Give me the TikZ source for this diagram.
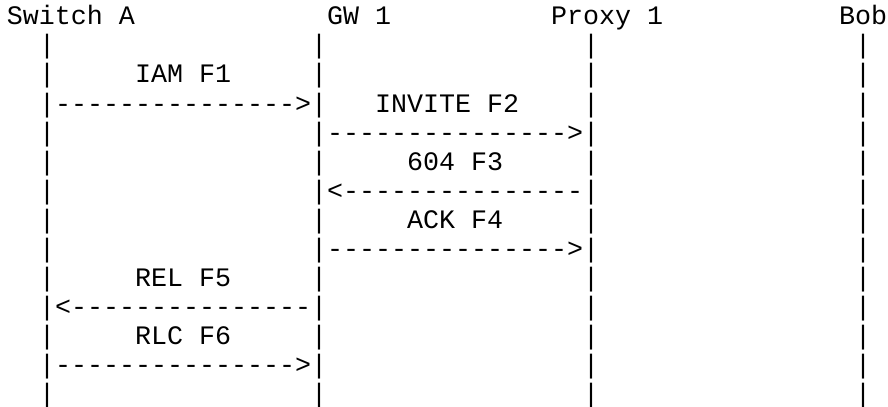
\documentclass[tikz,border=0pt]{standalone}
\usepackage{fontspec}
\newfontfamily\flowfont{Liberation Mono}
\newcommand\dashline[1]{\foreach\i in {1,...,#1}{-\kern0pt}}

\begin{document}
\begin{tikzpicture}[x=12pt,y=-21.75pt,
  every node/.style={font=\flowfont\fontsize{20pt}{24pt}\selectfont,
    inner sep=0pt,outer sep=0pt,anchor=base west}]

\useasboundingbox (-0.4375,-0.862) rectangle (55.0625,13.172);

% parties
\node (swa) at (0,0) {Switch A};
\node (gw1) at (20,0) {GW 1};
\node (px1) at (34,0) {Proxy 1};
\node (bob) at (52,0) {Bob};

% lifelines
\foreach \c in {2,19,36,53}
  \foreach \r in {1,...,13}
    \node (l\c-\r) at (\c,\r) {|};

% messages
\node (f1) at (8,2) {IAM F1};
\node (a1) at (3,3) {\dashline{15}>};
\node (f2) at (23,3) {INVITE F2};
\node (a2) at (20,4) {\dashline{15}>};
\node (f3) at (25,5) {604 F3};
\node (a3) at (20,6) {<\dashline{15}};
\node (f4) at (25,7) {ACK F4};
\node (a4) at (20,8) {\dashline{15}>};
\node (f5) at (8,9) {REL F5};
\node (a5) at (3,10) {<\dashline{15}};
\node (f6) at (8,11) {RLC F6};
\node (a6) at (3,12) {\dashline{15}>};

\end{tikzpicture}
\end{document}
